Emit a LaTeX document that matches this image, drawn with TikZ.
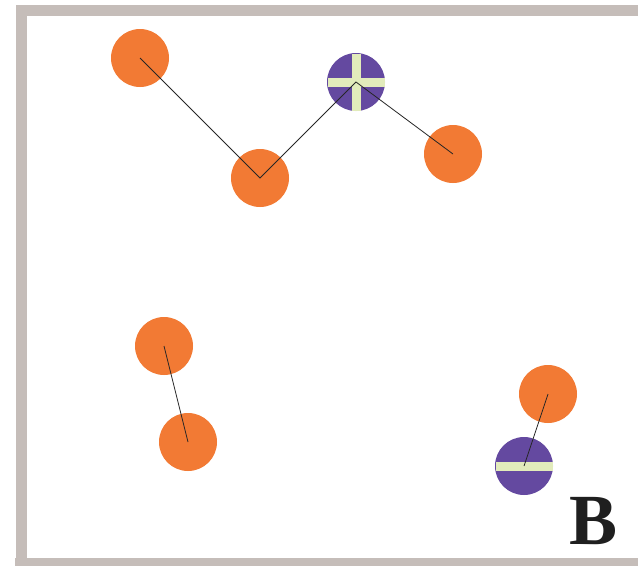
\documentclass[tikz,border=0pt]{standalone}
\usepackage{fontspec}
\setmainfont{Liberation Serif}
\definecolor{frame}{HTML}{C5BDB9}
\definecolor{orng}{HTML}{F27A34}
\definecolor{purp}{HTML}{6449A0}
\definecolor{barc}{HTML}{E2EBBB}
\begin{document}
\begin{tikzpicture}[x=1pt,y=-1pt,
  ball/.style={circle,fill=orng,minimum size=58pt,inner sep=0pt},
  pball/.style={circle,fill=purp,minimum size=58pt,inner sep=0pt},
  bond/.style={draw=black!85,line width=0.8pt}]
\useasboundingbox (0,0) rectangle (638,566);
\fill[white] (0,0) rectangle (638,566);
% frame
\fill[frame] (16,5) rectangle (638,16);
\fill[frame] (16,5) rectangle (27,566);
\fill[frame] (15,558) rectangle (638,566);
% balls
\node[ball] (a1) at (140,58) {};
\node[ball] (a2) at (260,178) {};
\node[pball] (p1) at (356,82) {};
\node[ball] (a3) at (453,154) {};
\node[ball] (a4) at (164,346) {};
\node[ball] (a5) at (188,442) {};
\node[ball] (a6) at (548,394) {};
\node[pball] (p2) at (524,466) {};
% bars
\fill[barc] (327.5,77.5) rectangle (384.5,86.5);
\fill[barc] (351.5,53.5) rectangle (360.5,110.5);
\fill[barc] (495.5,461.5) rectangle (552.5,470.5);
% bonds
\draw[bond] (a1.center) -- (a2.center) -- (p1.center) -- (a3.center);
\draw[bond] (a4.center) -- (a5.center);
\draw[bond] (a6.center) -- (p2.center);
% label
\node[font=\fontsize{72}{72}\selectfont\bfseries,inner sep=0pt,text=black!88] (lbl) at (594,521) {B};
\end{tikzpicture}
\end{document}
